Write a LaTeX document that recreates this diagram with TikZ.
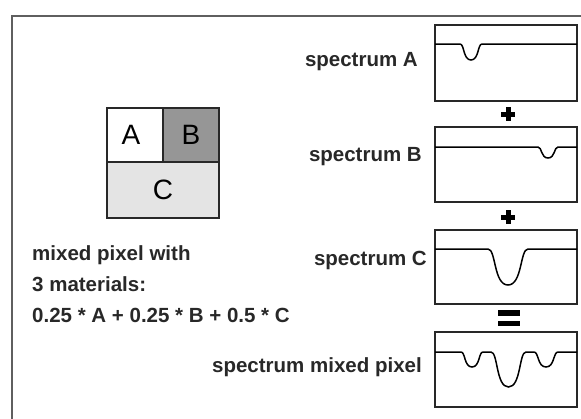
\documentclass[tikz,border=0pt]{standalone}
\usepackage{fontspec}
\setmainfont{Liberation Sans}
\usepackage{tikz}
\usetikzlibrary{calc,positioning}
\definecolor{inkgray}{RGB}{40,40,40}
\definecolor{framegray}{RGB}{95,95,95}
\definecolor{cellB}{RGB}{150,150,150}
\definecolor{cellC}{RGB}{228,228,228}
\tikzset{
  lbl/.style={font=\bfseries\fontsize{20.5}{24}\selectfont, text=inkgray, inner sep=0pt},
  cellname/.style={font=\fontsize{28}{32}\selectfont, text=black, inner sep=0pt},
  specbox/.style={draw=inkgray, line width=1.4pt, inner sep=0pt, outer sep=0pt, anchor=north west, minimum width=142pt},
  spec/.style={draw=black, line width=1.5pt},
  opsign/.style={black, line width=5pt}
}
% dip of a spectrum: x start, x end, base line, bottom
\newcommand{\dip}[4]{(#1,#3) .. controls ({#1+0.2*(#2-#1)},#3) and ({#1+0.14*(#2-#1)},#4) .. ({(#1+#2)/2},#4) .. controls ({#2-0.14*(#2-#1)},#4) and ({#2-0.2*(#2-#1)},#3) .. (#2,#3)}

\begin{document}
\begin{tikzpicture}[x=1pt,y=-1pt]
        \useasboundingbox (0,0) rectangle (581,418);
        \draw[framegray, line width=2pt] (12,430)--(12,15.5)--(590,15.5);
        % mixed pixel
        \fill[white] (107,108) rectangle (163,162);\fill[cellB] (163,108) rectangle (219,162);
        \fill[cellC] (107,162) rectangle (219,218);
        \draw[inkgray, line width=1.5pt] (107,108) rectangle (219,218);
        \draw[inkgray, line width=1.5pt] (163,108)--(163,162);\draw[inkgray, line width=1.5pt] (107,162)--(219,162);
        \node[cellname] (cA) at (131,135) {A};
        \node[cellname] (cB) at (191,135) {B};
        \node[cellname] (cC) at (163,190) {C};
        \node[lbl, anchor=west] (mix1) at (32,255) {mixed pixel with};
        \node[lbl, anchor=west] (mix2) at (32,284) {3 materials:};
        \node[lbl, anchor=west] (mix3) at (32,315) {0.25 * A + 0.25 * B + 0.5 * C};
        % spectra
        \node[specbox, minimum height=76pt] (boxA) at (435,25) {};
        \node[specbox, minimum height=75pt] (boxB) at (435,127) {};
        \node[specbox, minimum height=74pt] (boxC) at (435,230) {};
        \node[specbox, minimum height=75pt] (boxM) at (435,332) {};
        \node[lbl, anchor=east] (labA) at (418,62) {spectrum A};
        \node[lbl, anchor=east] (labB) at (422,157) {spectrum B};
        \node[lbl, anchor=east] (labC) at (427,260) {spectrum C};
        \node[lbl, anchor=east] (labM) at (422,367) {spectrum mixed pixel};
        \draw[spec] (boxA.west |- 0,44) -- \dip{460}{482}{44}{60} -- (boxA.east |- 0,44);
        \draw[spec] (boxB.west |- 0,147) -- \dip{538}{558}{147}{158} -- (boxB.east |- 0,147);
        \draw[spec] (boxC.west |- 0,249) -- \dip{488}{528}{249}{285} -- (boxC.east |- 0,249);
        \draw[spec] (boxM.west |- 0,352) -- \dip{461}{483}{352}{367} -- \dip{491}{526}{352}{387} -- \dip{534}{558}{352}{367} -- (boxM.east |- 0,352);
        % plus, plus, equals
        \draw[opsign] (501,114)--(515,114) (508,107)--(508,121);
        \draw[opsign] (501,217)--(515,217) (508,210)--(508,224);
        \fill[black] (498,310) rectangle (520,315.5);\fill[black] (498,320.5) rectangle (520,326);
      \end{tikzpicture}
\end{document}
